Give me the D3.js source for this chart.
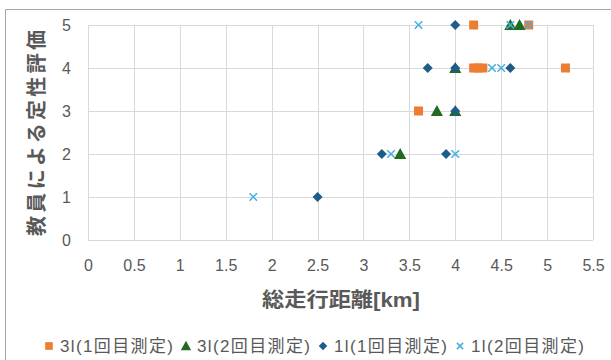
<!DOCTYPE html>
<html>
<head>
<meta charset="utf-8">
<script src="https://cdn.jsdelivr.net/npm/d3@7"></script>
<style>
  html, body { margin: 0; padding: 0; background: #fff; }
  svg { display: block; }
  text { font-family: "Liberation Sans", Arial, "Noto Sans CJK JP", sans-serif; fill: #595959; }
</style>
</head>
<body>
<svg id="chart" width="611" height="360"></svg>
<script>
// Series: total distance [km] and teacher's qualitative score
const seriesNames = ["3l(1回目測定)", "3l(2回目測定)", "1l(1回目測定)", "1l(2回目測定)"];
const seriesColors = ["#ED7D31", "#1F6B22", "#1F5D88", "#45AEE3"];
const seriesShapes = ["square", "triangle", "diamond", "cross"];

const s3l1x = [4.2, 4.8, 4.2, 4.25, 4.3, 5.2, 3.6];
const s3l1y = [5, 5, 4, 4, 4, 4, 3];
const s3l2x = [4.6, 4.7, 4.0, 3.8, 4.0, 3.4];
const s3l2y = [5, 5, 4, 3, 3, 2];
const s1l1x = [4.0, 3.7, 4.0, 4.6, 4.0, 3.2, 3.9, 2.5];
const s1l1y = [5, 4, 4, 4, 3, 2, 2, 1];
const s1l2x = [3.6, 4.6, 4.8, 4.4, 4.5, 3.3, 4.0, 1.8];
const s1l2y = [5, 5, 5, 4, 4, 2, 2, 1];

const xTicks = [0, 0.5, 1, 1.5, 2, 2.5, 3, 3.5, 4, 4.5, 5, 5.5];
const yTicks = [0, 1, 2, 3, 4, 5];

const xTitle = "総走行距離[km]";
const yTitle = "教員による定性評価";

const series = [
  { x: s3l1x, y: s3l1y },
  { x: s3l2x, y: s3l2y },
  { x: s1l1x, y: s1l1y },
  { x: s1l2x, y: s1l2y }
].map((s, i) => ({
  name: seriesNames[i], color: seriesColors[i], shape: seriesShapes[i],
  points: s.x.map((v, j) => [v, s.y[j]])
}));

const svg = d3.select("#chart");

// Chart frame
svg.append("path")
  .attr("d", "M5.5,360 V9.5 H611")
  .attr("fill", "none")
  .attr("stroke", "#A6A6A6")
  .attr("stroke-width", 1);

const x = d3.scaleLinear().domain([0, 5.5]).range([88, 593]);
const y = d3.scaleLinear().domain([0, 5]).range([240, 25]);

// Gridlines
const grid = svg.append("g");
grid.selectAll("line.v").data(xTicks).join("line")
  .attr("x1", d => Math.round(x(d)) + 0.5).attr("x2", d => Math.round(x(d)) + 0.5)
  .attr("y1", y(5)).attr("y2", y(0))
  .attr("stroke", "#D9D9D9").attr("stroke-width", 1);
grid.selectAll("line.h").data(yTicks).join("line")
  .attr("y1", d => Math.round(y(d)) + 0.5).attr("y2", d => Math.round(y(d)) + 0.5)
  .attr("x1", x(0)).attr("x2", x(5.5))
  .attr("stroke", "#D9D9D9").attr("stroke-width", 1);

// Axes (labels only, lines are the gridlines)
const xAxis = svg.append("g")
  .attr("transform", `translate(0,${y(0)})`)
  .call(d3.axisBottom(x).tickValues(xTicks).tickSize(0).tickPadding(20).tickFormat(d3.format("")));
const yAxis = svg.append("g")
  .attr("transform", `translate(${x(0)},0)`)
  .call(d3.axisLeft(y).tickValues(yTicks).tickSize(0).tickPadding(17).tickFormat(d3.format("d")));
[xAxis, yAxis].forEach(a => {
  a.select(".domain").remove();
  a.selectAll("text").attr("font-size", 16).attr("fill", "#595959")
    .attr("font-family", "'Liberation Sans', Arial, sans-serif");
});

// Axis titles
svg.append("text")
  .attr("x", 341).attr("y", 307)
  .attr("text-anchor", "middle")
  .attr("font-size", 20).attr("font-weight", "bold")
  .attr("textLength", 158).attr("lengthAdjust", "spacingAndGlyphs")
  .text(xTitle);
svg.append("text")
  .attr("transform", "translate(44,133) rotate(-90)")
  .attr("text-anchor", "middle")
  .attr("font-size", 20).attr("font-weight", "bold")
  .attr("textLength", 206).attr("lengthAdjust", "spacing")
  .text(yTitle);

// Marker shapes
function markerPath(shape, s) {
  switch (shape) {
    case "square": return `M${-s/2},${-s/2}h${s}v${s}h${-s}Z`;
    case "triangle": return `M0,${-s*0.55}L${s*0.55},${s*0.45}L${-s*0.55},${s*0.45}Z`;
    case "diamond": return `M0,${-s/2}L${s/2},0L0,${s/2}L${-s/2},0Z`;
    case "cross": { const h = s / 2 - 0.5; return `M${-h},${-h}L${h},${h}M${-h},${h}L${h},${-h}`; }
  }
}
const markerSize = { square: 9, triangle: 11, diamond: 10, cross: 8.5 };

function drawMarker(g, shape, color, scale) {
  const s = markerSize[shape] * scale;
  const p = g.append("path").attr("d", markerPath(shape, s));
  if (shape === "cross") {
    p.attr("fill", "none").attr("stroke", color).attr("stroke-width", 1.5);
  } else {
    p.attr("fill", color);
  }
}

// Data points
series.forEach(s => {
  const g = svg.append("g");
  g.selectAll("g").data(s.points).join("g")
    .attr("transform", d => `translate(${x(d[0])},${y(d[1])})`)
    .each(function () { drawMarker(d3.select(this), s.shape, s.color, 1); });
});

// Legend
const legend = svg.append("g");
let lx = 49;
const ly = 346;
series.forEach(s => {
  const mg = legend.append("g").attr("transform", `translate(${lx},${ly})`);
  drawMarker(mg, s.shape, s.color, 0.85);
  legend.append("text")
    .attr("x", lx + 11).attr("y", ly).attr("dy", "0.35em")
    .attr("font-size", 17).attr("fill", "#404040")
    .attr("textLength", 113).attr("lengthAdjust", "spacing")
    .text(s.name);
  lx += 11 + 113 + 13;
});
</script>
</body>
</html>
